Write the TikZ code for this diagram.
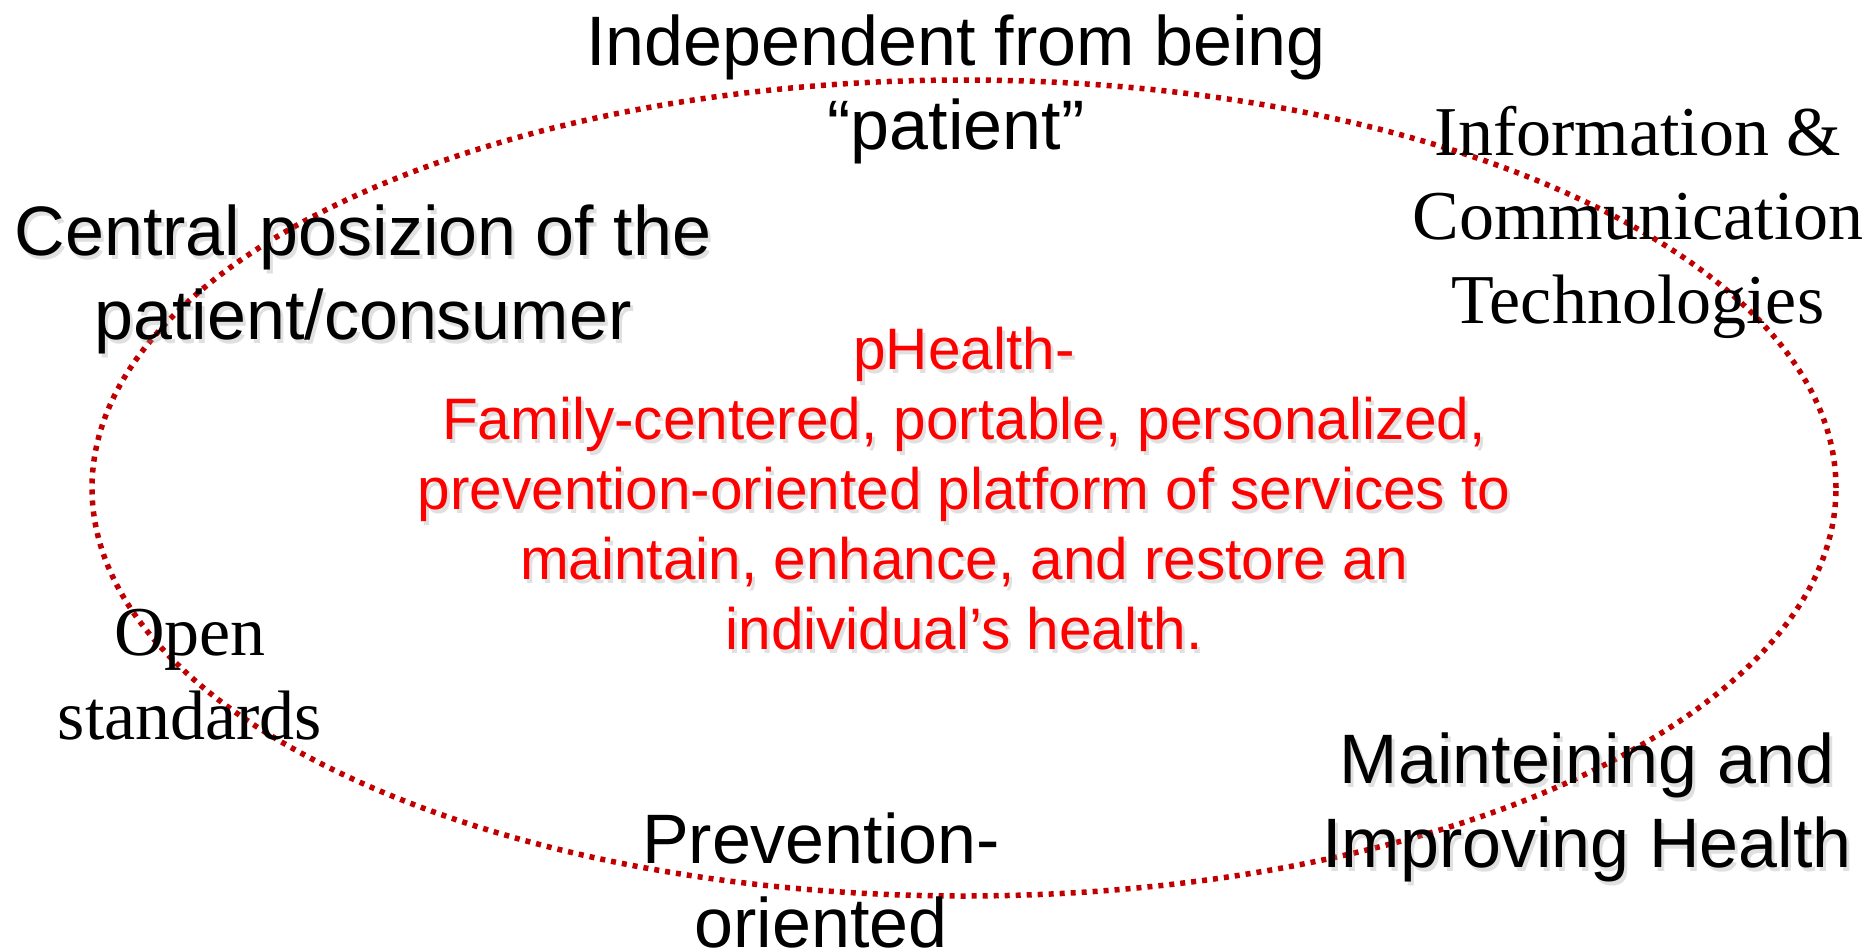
\documentclass[tikz,border=0pt]{standalone}
\usepackage{fontspec}
\setmainfont{Liberation Sans}
\newfontfamily\timesfont{Liberation Serif}
\usepackage{tikz}
\usetikzlibrary{positioning}
\definecolor{ringred}{HTML}{C00000}
\definecolor{txtred}{HTML}{FF0000}

\begin{document}
\begin{tikzpicture}
	[
	x=1pt, y=-1pt,
	every node/.style = {inner sep=0pt, align=center},
	big/.style = {font=\fontsize{70}{84}\selectfont},
	bigserif/.style = {font=\timesfont\fontsize{70}{84}\selectfont},
	core/.style = {font=\fontsize{58.5}{70}\selectfont, text=txtred},
	shadow/.style = {text=black!40, opacity=0.3},
	ring/.style = {draw=ringred, line width=5.5pt, dash pattern=on 5pt off 6pt}
	]
	\useasboundingbox (0,0) rectangle (1872,950);

	% the dotted ring
	\draw[ring] (964,488) ellipse [x radius=872pt, y radius=408pt];

	% texts round the ring
	\node[big] (indep) at (956,89.5) {Independent from being\\``patient''};
	\node[big,shadow] (central-sh) at (366,283) {Central posizion of the\\patient/consumer};
	\node[big] (central) at (363,279.5) {Central posizion of the\\patient/consumer};
	\node[bigserif] (ict) at (1638,222.5) {Information \&\\Communication\\Technologies};
	\node[bigserif] (open) at (190,675) {Open\\standards};
	\node[big] (prev) at (821,880) {Prevention-\\oriented};
	\node[big,shadow] (health-sh) at (1590,811) {Mainteining and\\Improving Health};
	\node[big] (health) at (1587,807.5) {Mainteining and\\Improving Health};

	% centre of the ring
	\node[core,shadow] (phealth-sh) at (967,492.5) {pHealth-\\Family-centered, portable, personalized,\\prevention-oriented platform of services to\\maintain, enhance, and restore an\\individual’s health.};
	\node[core] (phealth) at (964,489) {pHealth-\\Family-centered, portable, personalized,\\prevention-oriented platform of services to\\maintain, enhance, and restore an\\individual’s health.};
\end{tikzpicture}
\end{document}
